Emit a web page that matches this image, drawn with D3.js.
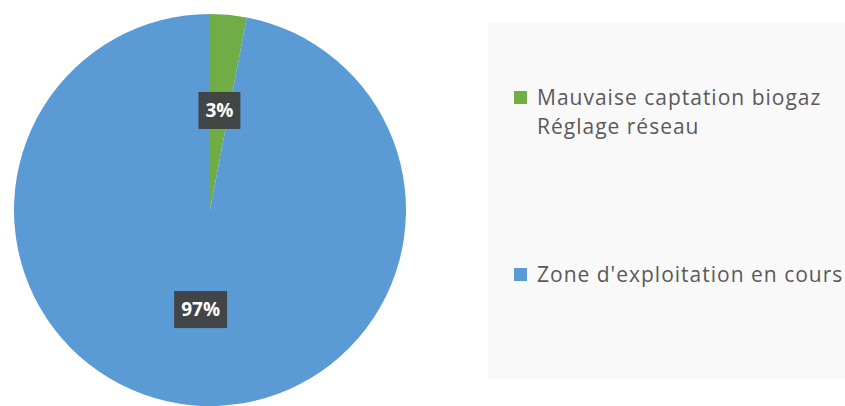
<!DOCTYPE html>
<html>
<head>
<meta charset="utf-8">
<script src="https://cdn.jsdelivr.net/npm/d3@7"></script>
<style>
  body { margin: 0; background: #fff; }
  svg { display: block; }
</style>
</head>
<body>
<div id="chart"></div>
<script>
// chart values
var categories = ["Mauvaise captation biogaz\nRéglage réseau", "Zone d'exploitation en cours"];
var values = [3, 97];
var colors = ["#70ad47", "#5b9bd5"];

var width = 845, height = 406;
var center = {x: 210, y: 210};
var radius = 196;

var svg = d3.select("#chart")
    .append("svg")
    .attr("width", width)
    .attr("height", height);

var pie = d3.pie().sort(null).value(function(d) { return d; });
var arc = d3.arc().innerRadius(0).outerRadius(radius);
var labelArc = d3.arc().innerRadius(0).outerRadius(radius + 4);

var g = svg.append("g")
    .attr("transform", "translate(" + center.x + "," + center.y + ")");

var arcs = pie(values);

g.selectAll("path.slice")
    .data(arcs)
    .enter().append("path")
    .attr("class", "slice")
    .attr("fill", function(d, i) { return colors[i]; })
    .attr("d", arc);

// data labels, dark boxes
var labels = g.selectAll("g.label")
    .data(arcs)
    .enter().append("g")
    .attr("class", "label")
    .attr("transform", function(d) {
        var c = labelArc.centroid(d);
        return "translate(" + c[0] + "," + c[1] + ")";
    });

labels.append("rect")
    .attr("fill", "#404040")
    .attr("fill-opacity", 0.95);

labels.append("text")
    .attr("text-anchor", "middle")
    .attr("dy", "0.35em")
    .style("font-family", "'Open Sans', sans-serif")
    .style("font-weight", "bold")
    .style("font-size", "19px")
    .attr("fill", "#ffffff")
    .text(function(d) { return d.value + "%"; });

labels.each(function() {
    var grp = d3.select(this);
    var bb = grp.select("text").node().getBBox();
    var padX = 7, boxH = 37;
    grp.select("rect")
        .attr("x", bb.x - padX)
        .attr("y", -boxH / 2)
        .attr("width", bb.width + padX * 2)
        .attr("height", boxH);
});

// legend
var legend = svg.append("g").attr("class", "legend");

legend.append("rect")
    .attr("x", 488)
    .attr("y", 23)
    .attr("width", width - 488)
    .attr("height", 356)
    .attr("fill", "#f9f9f9");

var legendY = d3.scalePoint()
    .domain(categories)
    .range([105, 282]);

var items = legend.selectAll("g.item")
    .data(categories)
    .enter().append("g")
    .attr("class", "item")
    .attr("transform", function(d) { return "translate(514," + legendY(d) + ")"; });

items.append("rect")
    .attr("x", 0)
    .attr("y", -14)
    .attr("width", 13)
    .attr("height", 13)
    .attr("fill", function(d, i) { return colors[i]; });

items.append("text")
    .attr("x", 23)
    .style("font-family", "'Open Sans', sans-serif")
    .style("font-size", "21px")
    .style("letter-spacing", "1px")
    .attr("fill", "#595959")
    .selectAll("tspan")
    .data(function(d) { return d.split("\n"); })
    .enter().append("tspan")
    .attr("x", 23)
    .attr("dy", function(d, i) { return i === 0 ? 0 : 29; })
    .text(function(d) { return d; });
</script>
</body>
</html>
